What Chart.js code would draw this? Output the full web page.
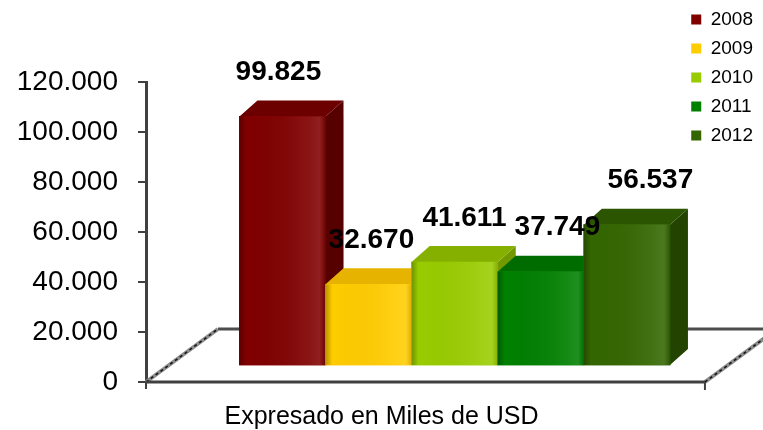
<!DOCTYPE html>
<html>
<head>
<meta charset="utf-8">
<script src="https://cdn.jsdelivr.net/npm/chart.js@4.4.0/dist/chart.umd.min.js"></script>
<style>
  html, body { margin: 0; padding: 0; background: #fff; }
</style>
</head>
<body>
<canvas id="chart" width="763" height="430"></canvas>
<script>
// Values (miles de USD)
const years = ['2008', '2009', '2010', '2011', '2012'];
const values = [99825, 32670, 41611, 37749, 56537];
const yMax = 120000;
const yStep = 20000;
const axisTitle = 'Expresado en Miles de USD';

// Colours for the front, side and top faces of each 3D column
const frontColors = ['#800000', '#ffcc00', '#99cc00', '#008000', '#336600'];
const sideColors  = ['#560000', '#d9a300', '#739900', '#005a00', '#224400'];
const topColors   = ['#6c0000', '#e6b400', '#86b000', '#006c00', '#2b5500'];

// 3D look
const DEPTH_X = 18, DEPTH_Y = 16, LIFT = 16;
const FLOOR_DX = 72, FLOOR_DY = 53;

Chart.defaults.font.family = "'Liberation Sans', Arial, sans-serif";
Chart.defaults.color = '#000';

// 99825 -> "99.825"
function formatMiles(v) {
  return String(v).replace(/\B(?=(\d{3})+(?!\d))/g, '.');
}

function drawFloor(chart) {
  const { ctx, chartArea, scales } = chart;
  const left = chartArea.left;
  const bottom = chartArea.bottom;
  const right = scales.x.getPixelForValue(years.length - 0.5) + 35;

  ctx.save();
  ctx.lineCap = 'butt';
  // back edge
  ctx.strokeStyle = '#4d4d4d';
  ctx.lineWidth = 3;
  ctx.beginPath();
  ctx.moveTo(left + FLOOR_DX, bottom - FLOOR_DY);
  ctx.lineTo(right + FLOOR_DX, bottom - FLOOR_DY);
  ctx.stroke();

  // side edges (grey with dotted core)
  [left, right].forEach(x0 => {
    ctx.setLineDash([]);
    ctx.strokeStyle = '#8c8c8c';
    ctx.lineWidth = 4;
    ctx.beginPath();
    ctx.moveTo(x0, bottom);
    ctx.lineTo(x0 + FLOOR_DX, bottom - FLOOR_DY);
    ctx.stroke();
    ctx.setLineDash([3, 3]);
    ctx.strokeStyle = '#111';
    ctx.lineWidth = 1.5;
    ctx.stroke();
  });
  ctx.setLineDash([]);

  // front edge with end ticks
  ctx.strokeStyle = '#404040';
  ctx.lineWidth = 3;
  ctx.beginPath();
  ctx.moveTo(left, bottom);
  ctx.lineTo(right, bottom);
  ctx.stroke();
  ctx.lineWidth = 2;
  ctx.beginPath();
  ctx.moveTo(left, bottom);
  ctx.lineTo(left, bottom + 7);
  ctx.moveTo(right, bottom);
  ctx.lineTo(right, bottom + 8);
  ctx.stroke();
  ctx.restore();
}

const bars3d = {
  id: 'bars3d',
  beforeDatasetsDraw(chart) {
    drawFloor(chart);
    chart.ctx.save();
    chart.ctx.translate(0, -LIFT);
  },
  afterDatasetsDraw(chart) {
    const ctx = chart.ctx;
    // redraw left to right so each column hides the side of the previous one
    chart.data.datasets.forEach((ds, i) => {
      chart.getDatasetMeta(i).data.forEach(el => {
        const { x, y, base, width } = el.getProps(['x', 'y', 'base', 'width'], true);
        const l = x - width / 2, r = x + width / 2;

        ctx.fillStyle = sideColors[i];
        ctx.beginPath();
        ctx.moveTo(r, y);
        ctx.lineTo(r + DEPTH_X, y - DEPTH_Y);
        ctx.lineTo(r + DEPTH_X, base - DEPTH_Y);
        ctx.lineTo(r, base);
        ctx.closePath();
        ctx.fill();

        ctx.fillStyle = topColors[i];
        ctx.beginPath();
        ctx.moveTo(l, y);
        ctx.lineTo(l + DEPTH_X, y - DEPTH_Y);
        ctx.lineTo(r + DEPTH_X, y - DEPTH_Y);
        ctx.lineTo(r, y);
        ctx.closePath();
        ctx.fill();

        el.draw(ctx);

        // soft shading on the front face
        const g = ctx.createLinearGradient(l, 0, r, 0);
        g.addColorStop(0, 'rgba(0,0,0,0.28)');
        g.addColorStop(0.08, 'rgba(0,0,0,0)');
        g.addColorStop(0.8, 'rgba(255,255,255,0.08)');
        g.addColorStop(0.93, 'rgba(255,255,255,0.12)');
        g.addColorStop(1, 'rgba(0,0,0,0.15)');
        ctx.fillStyle = g;
        ctx.fillRect(l, y, width, base - y);
      });
    });
    ctx.restore();

    // value labels above each column
    ctx.save();
    ctx.font = "bold 28px 'Liberation Sans', Arial, sans-serif";
    ctx.fillStyle = '#000';
    ctx.textAlign = 'center';
    ctx.textBaseline = 'middle';
    chart.data.datasets.forEach((ds, i) => {
      const el = chart.getDatasetMeta(i).data[0];
      const lx = el.x + (el.x - 333) * 0.08;
      const ly = el.y - LIFT - DEPTH_Y - 28;
      ctx.fillText(formatMiles(ds.data[0].y), lx, ly);
    });
    ctx.restore();
  }
};

const datasets = years.map((year, i) => ({
  label: year,
  data: [{ x: i, y: values[i] }],
  backgroundColor: frontColors[i],
  borderWidth: 0,
  grouped: false,
  barPercentage: 1,
  categoryPercentage: 1
}));

new Chart(document.getElementById('chart'), {
  type: 'bar',
  data: { datasets },
  plugins: [bars3d],
  options: {
    responsive: false,
    animation: false,
    layout: { padding: 0 },
    scales: {
      x: {
        type: 'linear',
        display: false,
        offset: false,
        min: -1.585,
        max: 4.631,
        afterBuildTicks: scale => {
          scale.ticks = years.map((_, i) => ({ value: i }));
        }
      },
      y: {
        min: 0,
        max: yMax,
        afterFit: scale => { scale.width = 146; },
        ticks: {
          stepSize: yStep,
          padding: 20,
          font: { size: 28 },
          color: '#000',
          callback: v => formatMiles(v)
        },
        grid: {
          drawOnChartArea: false,
          drawTicks: true,
          tickLength: 8,
          color: '#404040',
          lineWidth: 2
        },
        border: { display: true, color: '#404040', width: 3 }
      }
    },
    plugins: {
      tooltip: { enabled: false },
      legend: {
        position: 'right',
        align: 'start',
        labels: {
          boxWidth: 10,
          boxHeight: 10,
          padding: 10,
          font: { size: 19 },
          color: '#000'
        }
      },
      subtitle: {
        display: true,
        text: '',
        position: 'top',
        font: { size: 10, lineHeight: 1 },
        padding: { top: 72, bottom: 0 }
      },
      title: {
        display: true,
        text: axisTitle,
        position: 'bottom',
        color: '#000',
        font: { size: 25, weight: 'normal', lineHeight: 1 },
        padding: { top: 23, bottom: 0 }
      }
    }
  }
});
</script>
</body>
</html>
